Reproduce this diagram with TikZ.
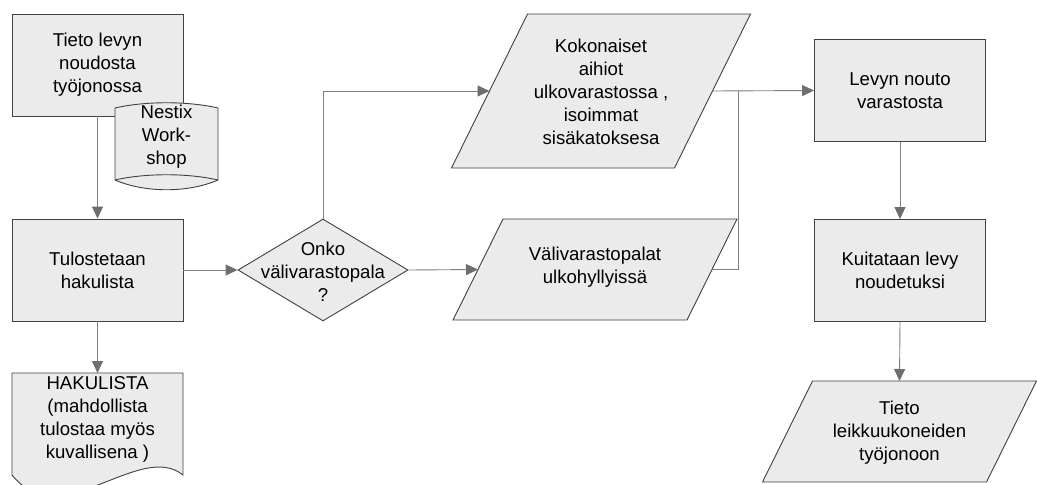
\documentclass[tikz,border=0pt]{standalone}
\usepackage{fontspec}
\setmainfont{Liberation Sans}
\usetikzlibrary{arrows.meta,shapes.geometric}

\definecolor{boxfill}{HTML}{EBEBEB}
\definecolor{boxline}{HTML}{404040}
\definecolor{linkgray}{HTML}{808080}
\definecolor{tipgray}{HTML}{6E6E6E}

\begin{document}
\begin{tikzpicture}[x=1pt,y=-1pt,
  font=\fontsize{18.6}{23}\selectfont,
  shapeline/.style={draw=boxline, line width=0.9pt, fill=boxfill},
  procbox/.style={shapeline, rectangle, minimum width=171pt, minimum height=102pt,
                  inner sep=0pt, align=center},
  frame/.style={rectangle, inner sep=0pt, outer sep=0pt},
  txt/.style={align=center, inner sep=0pt},
  link/.style={draw=linkgray, line width=0.9pt},
  arrowlink/.style={link, -{Triangle[length=12pt,width=11pt,color=tipgray,fill=tipgray]}},
]
\useasboundingbox (0,0) rectangle (1037,485);

% left column: work queue, stored data, printout
\node[procbox] (queue) at (97.5,65) {Tieto levyn\\noudosta\\työjonossa};

\node[frame, minimum width=103pt, minimum height=72pt] (cyl) at (166.5,144) {};
\draw[shapeline] (cyl.north west) .. controls +(30,-7) and +(-30,-7) .. (cyl.north east)
  -- (cyl.south east) .. controls +(-30,13) and +(30,13) .. (cyl.south west) -- cycle;
\draw[draw=boxline, line width=0.9pt] (cyl.south west) .. controls +(30,-7) and +(-30,-7) .. (cyl.south east);
\node[txt] (cyltext) at (166.5,137) {Nestix\\Work-\\shop};

\node[procbox] (print) at (97.5,270) {Tulostetaan\\hakulista};

\node[frame, minimum width=171pt, minimum height=102pt] (doc) at (97.5,424) {};
\draw[shapeline] (doc.south west) -- (doc.north west) -- (doc.north east) -- (doc.south east)
  .. controls (140,440) and (60,535) .. (doc.south west) -- cycle;
\node[txt] (doctext) at (97.5,419) {HAKULISTA\\(mahdollista\\tulostaa myös\\kuvallisena )};

% decision
\node[diamond, shapeline, minimum width=170pt, minimum height=102pt, inner sep=0pt] (dec) at (323,270) {};
\node[txt] (dectext) at (323,272) {Onko\\välivarastopala\\?};

% storage locations (parallelograms)
\node[frame, minimum width=223pt, minimum height=154pt] (p1) at (601,91) {};
\draw[shapeline] ([xshift=38pt]p1.north west) -- ([xshift=38pt]p1.north east)
  -- ([xshift=-38pt]p1.south east) -- ([xshift=-38pt]p1.south west) -- cycle;
\node[txt] (p1text) at (601,92) {Kokonaiset\\aihiot\\ulkovarastossa ,\\isoimmat\\sisäkatoksesa};

\node[frame, minimum width=234pt, minimum height=101pt] (p2) at (595,269.5) {};
\draw[shapeline] ([xshift=25pt]p2.north west) -- ([xshift=25pt]p2.north east)
  -- ([xshift=-25pt]p2.south east) -- ([xshift=-25pt]p2.south west) -- cycle;
\node[txt] (p2text) at (595,267) {Välivarastopalat\\ulkohyllyissä};

% right column
\node[procbox] (fetch) at (900,90.5) {Levyn nouto\\varastosta};
\node[procbox] (ack) at (900,270.5) {Kuitataan levy\\noudetuksi};

\node[frame, minimum width=224pt, minimum height=101pt] (p3) at (899.5,431.5) {};
\draw[shapeline] ([xshift=25pt]p3.north west) -- ([xshift=25pt]p3.north east)
  -- ([xshift=-25pt]p3.south east) -- ([xshift=-25pt]p3.south west) -- cycle;
\node[txt] (p3text) at (899.5,433) {Tieto\\leikkuukoneiden\\työjonoon};

% connectors
\draw[arrowlink] (queue.south) -- (print.north);
\draw[arrowlink] (print.south) -- (doc.north);
\draw[arrowlink] (print.east) -- (dec.west);
\draw[arrowlink] (dec.north) |- (p1.west);
\draw[arrowlink] (dec.east) -- (p2.west);
\draw[arrowlink] (p1.east) -- (fetch.west);
\coordinate (merge) at (738,90.5);
\draw[link] (p2.east) -| (merge);
\draw[arrowlink] (fetch.south) -- (ack.north);
\draw[arrowlink] (ack.south) -- (p3.north);
\end{tikzpicture}
\end{document}
